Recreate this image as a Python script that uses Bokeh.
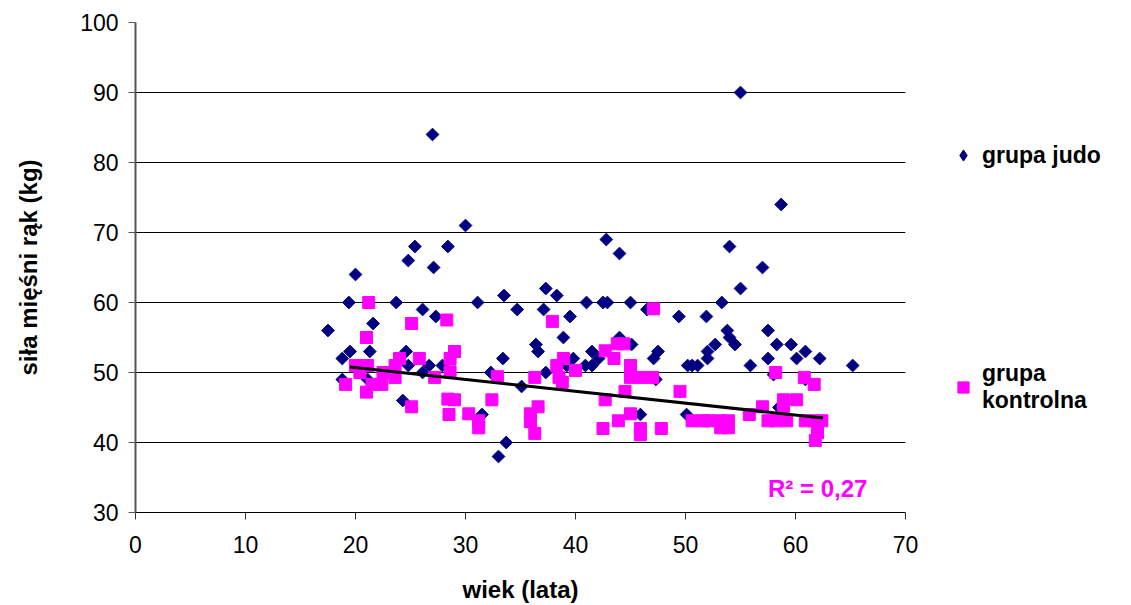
import numpy as np
from bokeh.plotting import figure
from bokeh.layouts import row
from bokeh.models import Range1d, FixedTicker, Legend, LegendItem, Label
from bokeh.embed import file_html
from bokeh.resources import INLINE

# ---- data ----
judo_age = [17.5, 18.8, 18.8, 19.4, 19.5, 20.0, 21.1, 21.3, 21.6, 23.7,
            24.3, 24.6, 24.8, 24.8, 25.4, 26.1, 26.1, 26.7, 27.0, 27.1,
            27.3, 27.9, 28.4, 30.0, 31.1, 31.5, 32.3, 33.0, 33.4, 33.5,
            33.7, 34.7, 35.1, 36.4, 36.6, 37.1, 37.3, 37.3, 38.3, 38.9,
            39.2, 39.5, 39.8, 40.9, 41.0, 41.5, 41.5, 42.1, 42.5, 42.8,
            42.9, 44.0, 44.0, 45.0, 45.1, 45.9, 46.5, 47.1, 47.3, 47.5,
            49.4, 50.1, 50.2, 50.6, 51.1, 51.9, 52.0, 52.0, 52.7, 53.3,
            53.8, 54.0, 54.0, 54.5, 55.0, 55.0, 55.9, 57.0, 57.5, 57.5,
            58.0, 58.3, 58.5, 58.7, 59.6, 60.1, 60.9, 60.9, 62.2, 65.2]
judo_force = [56, 52, 49, 60, 53, 64, 49, 53, 57, 60,
              46, 53, 51, 66, 68, 59, 50, 51, 84, 65,
              58, 51, 68, 71, 60, 44, 50, 38, 52, 61,
              40, 59, 48, 54, 53, 59, 62, 50, 61, 55,
              51, 58, 52, 51, 60, 51, 53, 52, 60, 69,
              60, 67, 55, 60, 54, 44, 59, 52, 49, 53,
              58, 44, 51, 51, 51, 58, 53, 52, 54, 60,
              56, 55, 68, 54, 62, 90, 51, 65, 56, 52,
              49.7, 54, 45, 74, 54, 52, 53, 49, 52, 51]

ctrl_age = [19.1, 20.0, 20.4, 21.0, 21.0, 21.1, 21.2, 21.5, 22.4, 22.5,
            23.6, 23.6, 24.0, 25.1, 25.1, 25.8, 27.2, 28.3, 28.4, 28.5,
            28.6, 28.6, 29.0, 29.0, 30.3, 31.2, 31.2, 32.4, 32.9, 35.9,
            35.9, 36.3, 36.3, 36.6, 37.9, 38.3, 38.5, 38.8, 38.9, 40.0,
            42.5, 42.7, 42.7, 43.5, 43.8, 43.9, 44.4, 44.5, 45.0, 45.0,
            45.0, 45.9, 45.9, 45.9, 47.0, 47.1, 47.8, 49.5, 50.6, 51.6,
            52.0, 53.0, 53.2, 53.9, 53.9, 55.8, 57.0, 57.5, 58.2, 58.2,
            58.9, 58.9, 59.2, 60.1, 60.8, 60.9, 61.7, 61.7, 62.4, 62.0,
            61.8]
ctrl_force = [48.3, 51, 50, 55, 47.2, 51, 60, 48.3, 48.3, 50,
              51, 49.3, 52, 57, 45.1, 52, 49.3, 57.5, 46.2, 44,
              52, 50.1, 53, 46.1, 44.1, 43.1, 42.1, 46.1, 49.4, 44.1,
              43, 49.3, 41.3, 45.1, 57.3, 51, 49.3, 48.6, 52, 50.3,
              42, 53.1, 46.1, 52, 54.1, 43.1, 54.1, 47.3, 51, 49.3,
              44.1, 49.3, 42, 41.1, 49.3, 59.1, 42, 47.3, 43.1, 43.1,
              43.1, 43.1, 42.1, 43.1, 42.1, 44, 45.1, 43.1, 50, 43.1,
              46.1, 45, 43.1, 46.1, 49.3, 43.1, 48.3, 43.1, 43.1, 41.4,
              40.3]

trend_age = [19.5, 62.5]
trend_force = [50.8, 43.5]

x_ticks = [0, 10, 20, 30, 40, 50, 60, 70]
y_ticks = [30, 40, 50, 60, 70, 80, 90, 100]

series_names = ["grupa judo", "grupa\nkontrolna"]
r2_text = "R\u00b2 = 0,27"
x_title = "wiek (lata)"
y_title = "si\u0142a mi\u0119\u015bni r\u0105k (kg)"

FONT = "Liberation Sans"
JUDO = "#000080"
CTRL = "#FF00FF"

p = figure(width=925, height=605, output_backend="svg", toolbar_location=None,
           x_range=Range1d(0, 70), y_range=Range1d(30, 100),
           min_border_left=135, min_border_right=20, min_border_top=22,
           min_border_bottom=93)
p.outline_line_color = None
p.background_fill_color = "white"
p.border_fill_color = "white"

# grid
p.xgrid.grid_line_color = None
p.ygrid.grid_line_color = "black"
p.ygrid.grid_line_width = 1
p.ygrid.ticker = FixedTicker(ticks=y_ticks)

# axes
for ax in (p.xaxis[0], p.yaxis[0]):
    ax.major_tick_out = 7
    ax.major_tick_in = 0
    ax.minor_tick_line_color = None
    ax.major_label_text_font = FONT
    ax.major_label_text_font_size = "23px"
    ax.major_label_text_color = "black"
    ax.axis_label_text_font = FONT
    ax.axis_label_text_font_style = "bold"
    ax.axis_label_text_font_size = "24px"
    ax.axis_label_text_color = "black"

p.xaxis.axis_line_color = "black"
p.xaxis.axis_line_width = 1
p.xaxis.major_tick_line_color = "#333333"
p.yaxis.axis_line_color = "#555555"
p.yaxis.axis_line_width = 2
p.yaxis.major_tick_line_color = "#555555"

p.xaxis.ticker = FixedTicker(ticks=x_ticks)
p.yaxis.ticker = FixedTicker(ticks=y_ticks)
p.xaxis.axis_label = x_title
p.yaxis.axis_label = y_title
p.xaxis.major_label_standoff = 16
p.yaxis.major_label_standoff = 10
p.xaxis.axis_label_standoff = 20
p.yaxis.axis_label_standoff = 35

# series
r_judo = p.scatter(judo_age, judo_force, marker="square", angle=np.pi / 4,
                   size=9, fill_color=JUDO, line_color=JUDO)
r_ctrl = p.scatter(ctrl_age, ctrl_force, marker="square", size=12,
                   fill_color=CTRL, line_color=CTRL)
p.line(trend_age, trend_force, line_color="black", line_width=3)

# R^2 label
p.add_layout(Label(x=57.5, y=33.4, text=r2_text, text_font=FONT,
                   text_font_style="bold", text_font_size="24px",
                   text_color=CTRL, text_baseline="alphabetic"))

# ---- legend area (separate figure on the right) ----
q = figure(width=206, height=605, output_backend="svg", toolbar_location=None,
           x_axis_location=None, y_axis_location=None,
           x_range=Range1d(0, 1), y_range=Range1d(0, 1),
           min_border=0)
q.outline_line_color = None
q.xgrid.grid_line_color = None
q.ygrid.grid_line_color = None
q.background_fill_color = "white"
q.border_fill_color = "white"
# legend proxies kept outside the visible range of the legend panel
lj = q.scatter(x=[-5], y=[-5], marker="diamond", fill_color=JUDO, line_color=JUDO)
lc = q.scatter(x=[-5], y=[-5], marker="square", fill_color=CTRL, line_color=CTRL)

lg = Legend(items=[LegendItem(label=series_names[0], renderers=[lj]),
                   LegendItem(label=series_names[1], renderers=[lc])],
            location=(24, 98), orientation="vertical")
lg.padding = 0
lg.margin = 0
lg.spacing = 191
lg.border_line_color = None
lg.background_fill_alpha = 0
lg.glyph_width = 28
lg.glyph_height = 28
lg.label_height = 20
lg.label_standoff = 5
lg.label_text_font = FONT
lg.label_text_font_style = "bold"
lg.label_text_font_size = "23px"
lg.label_text_color = "black"
lg.label_text_line_height = 1.25
q.add_layout(lg)

layout = row(p, q, spacing=0)
open("out.html", "w").write(file_html(layout, INLINE))
